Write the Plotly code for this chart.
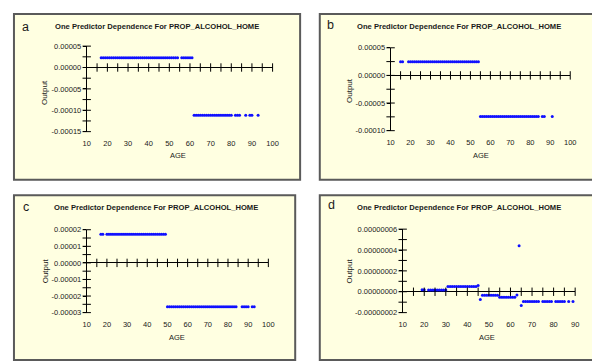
import plotly.graph_objects as go

W, H = 600, 361

# ---------------- data ----------------
# Panel a
a_age = [17, 18, 19, 20, 21, 22, 23, 24, 25, 26, 27, 28, 29, 30, 31, 32, 33, 34, 35, 36,
         37, 38, 39, 40, 41, 42, 43, 44, 45, 46, 47, 48, 49, 50, 51, 52, 53, 54, 56, 57,
         58, 59, 60, 61,
         62, 63, 64, 65, 66, 67, 68, 69, 70, 71, 72, 73, 74, 75, 76, 77, 78, 79, 80,
         82, 83, 84, 87, 89, 90, 93]
a_out = [0.0000227] * 0 + [
    0.0000227, 0.0000227, 0.0000227, 0.0000227, 0.0000227, 0.0000227, 0.0000227, 0.0000227,
    0.0000227, 0.0000227, 0.0000227, 0.0000227, 0.0000227, 0.0000227, 0.0000227, 0.0000227,
    0.0000227, 0.0000227, 0.0000227, 0.0000227, 0.0000227, 0.0000227, 0.0000227, 0.0000227,
    0.0000227, 0.0000227, 0.0000227, 0.0000227, 0.0000227, 0.0000227, 0.0000227, 0.0000227,
    0.0000227, 0.0000227, 0.0000227, 0.0000227, 0.0000227, 0.0000227, 0.0000227, 0.0000227,
    0.0000227, 0.0000227, 0.0000227, 0.0000227,
    -0.0001114, -0.0001114, -0.0001114, -0.0001114, -0.0001114, -0.0001114, -0.0001114,
    -0.0001114, -0.0001114, -0.0001114, -0.0001114, -0.0001114, -0.0001114, -0.0001114,
    -0.0001114, -0.0001114, -0.0001114, -0.0001114, -0.0001114,
    -0.0001114, -0.0001114, -0.0001114, -0.0001114, -0.0001114, -0.0001114, -0.0001114]

# Panel b
b_age = [15, 16, 19, 20, 21, 22, 23, 24, 25, 26, 27, 28, 29, 30, 31, 32, 33, 34, 35, 36,
         37, 38, 39, 40, 41, 42, 43, 44, 45, 46, 47, 48, 49, 50, 51, 52, 53, 54,
         55, 56, 57, 58, 59, 60, 61, 62, 63, 64, 65, 66, 67, 68, 69, 70, 71, 72, 73, 74,
         75, 76, 77, 78, 79, 80, 81, 82, 83, 84, 86, 87, 91]
b_out = [
    0.0000247, 0.0000247, 0.0000247, 0.0000247, 0.0000247, 0.0000247, 0.0000247, 0.0000247,
    0.0000247, 0.0000247, 0.0000247, 0.0000247, 0.0000247, 0.0000247, 0.0000247, 0.0000247,
    0.0000247, 0.0000247, 0.0000247, 0.0000247, 0.0000247, 0.0000247, 0.0000247, 0.0000247,
    0.0000247, 0.0000247, 0.0000247, 0.0000247, 0.0000247, 0.0000247, 0.0000247, 0.0000247,
    0.0000247, 0.0000247, 0.0000247, 0.0000247, 0.0000247, 0.0000247,
    -0.0000742, -0.0000742, -0.0000742, -0.0000742, -0.0000742, -0.0000742, -0.0000742,
    -0.0000742, -0.0000742, -0.0000742, -0.0000742, -0.0000742, -0.0000742, -0.0000742,
    -0.0000742, -0.0000742, -0.0000742, -0.0000742, -0.0000742, -0.0000742, -0.0000742,
    -0.0000742, -0.0000742, -0.0000742, -0.0000742, -0.0000742, -0.0000742, -0.0000742,
    -0.0000742, -0.0000742, -0.0000742, -0.0000742, -0.0000742]

# Panel c
c_age = [17, 18, 20, 21, 22, 23, 24, 25, 26, 27, 28, 29, 30, 31, 32, 33, 34, 35, 36, 37,
         38, 39, 40, 41, 42, 43, 44, 45, 46, 47, 48, 49,
         50, 51, 52, 53, 54, 55, 56, 57, 58, 59, 60, 61, 62, 63, 64, 65, 66, 67, 68, 69,
         70, 71, 72, 73, 74, 75, 76, 77, 78, 79, 80, 81, 82, 83, 84, 87, 88, 89, 90, 92, 93]
c_out = [
    0.0000172, 0.0000172, 0.0000172, 0.0000172, 0.0000172, 0.0000172, 0.0000172, 0.0000172,
    0.0000172, 0.0000172, 0.0000172, 0.0000172, 0.0000172, 0.0000172, 0.0000172, 0.0000172,
    0.0000172, 0.0000172, 0.0000172, 0.0000172, 0.0000172, 0.0000172, 0.0000172, 0.0000172,
    0.0000172, 0.0000172, 0.0000172, 0.0000172, 0.0000172, 0.0000172, 0.0000172, 0.0000172,
    -0.0000265, -0.0000265, -0.0000265, -0.0000265, -0.0000265, -0.0000265, -0.0000265,
    -0.0000265, -0.0000265, -0.0000265, -0.0000265, -0.0000265, -0.0000265, -0.0000265,
    -0.0000265, -0.0000265, -0.0000265, -0.0000265, -0.0000265, -0.0000265, -0.0000265,
    -0.0000265, -0.0000265, -0.0000265, -0.0000265, -0.0000265, -0.0000265, -0.0000265,
    -0.0000265, -0.0000265, -0.0000265, -0.0000265, -0.0000265, -0.0000265, -0.0000265,
    -0.0000265, -0.0000265, -0.0000265, -0.0000265, -0.0000265, -0.0000265]

# Panel d
d_age = [19, 20, 22, 23, 24, 25, 26, 27, 28, 29, 30,
         31, 32, 33, 34, 35, 36, 37, 38, 39, 40, 41, 42, 43, 44, 45,
         46, 47, 48, 49, 50, 51, 52, 53, 54,
         55, 56, 57, 58, 59, 60, 61, 62, 63, 64, 65,
         66, 67, 68, 69, 70, 71, 72, 73, 75, 76, 77, 78, 79, 81, 82, 83, 84, 85, 87, 89]
d_out = [1.9e-9, 1.9e-9, 1.6e-9, 1.6e-9, 1.6e-9, 1.6e-9, 1.6e-9, 1.6e-9, 1.6e-9, 1.6e-9, 1.6e-9,
         5.0e-9, 5.0e-9, 5.0e-9, 5.0e-9, 5.0e-9, 5.0e-9, 5.0e-9, 5.0e-9, 5.0e-9, 5.0e-9,
         5.0e-9, 5.0e-9, 5.0e-9, 5.0e-9, 5.9e-9,
         -7.5e-9, -3.4e-9, -3.4e-9, -3.4e-9, -3.4e-9, -3.4e-9, -3.4e-9, -3.4e-9, -3.4e-9,
         -5.3e-9, -5.3e-9, -5.3e-9, -5.3e-9, -5.3e-9, -5.3e-9, -5.3e-9, -5.3e-9, -3.2e-9,
         4.42e-8, -1.31e-8,
         -9.3e-9, -9.3e-9, -9.3e-9, -9.3e-9, -9.3e-9, -9.3e-9, -9.3e-9, -9.3e-9, -9.3e-9,
         -9.3e-9, -9.3e-9, -9.3e-9, -9.3e-9, -9.3e-9, -9.3e-9, -9.3e-9, -9.3e-9, -9.3e-9,
         -9.3e-9, -9.3e-9]

# tick labels
x_ticks_100 = [10, 20, 30, 40, 50, 60, 70, 80, 90, 100]
x_ticks_90 = [10, 20, 30, 40, 50, 60, 70, 80, 90]
x_cross_100 = [15, 20, 25, 30, 35, 40, 45, 50, 55, 60, 65, 70, 75, 80, 85, 90, 95, 100]
x_cross_90 = [15, 20, 25, 30, 35, 40, 45, 50, 55, 60, 65, 70, 75, 80, 85, 90]

a_yt = [0.00005, 0.0, -0.00005, -0.0001, -0.00015]
a_ytext = ["0.00005", "0.00000", "-0.00005", "-0.00010", "-0.00015"]
a_ycross = [0.00005, 0.000025, 0.0, -0.000025, -0.00005, -0.000075, -0.0001, -0.000125, -0.00015]

b_yt = [0.00005, 0.0, -0.00005, -0.0001]
b_ytext = ["0.00005", "0.00000", "-0.00005", "-0.00010"]
b_ycross = [0.00005, 0.000025, 0.0, -0.000025, -0.00005, -0.000075, -0.0001]

c_yt = [0.00002, 0.00001, 0.0, -0.00001, -0.00002, -0.00003]
c_ytext = ["0.00002", "0.00001", "0.00000", "-0.00001", "-0.00002", "-0.00003"]
c_ycross = [0.00002, 0.000015, 0.00001, 0.000005, 0.0, -0.000005, -0.00001, -0.000015,
            -0.00002, -0.000025, -0.00003]

d_yt = [6e-8, 4e-8, 2e-8, 0.0, -2e-8]
d_ytext = ["0.00000006", "0.00000004", "0.00000002", "0.00000000", "-0.00000002"]
d_ycross = [6e-8, 5e-8, 4e-8, 3e-8, 2e-8, 1e-8, 0.0, -1e-8, -2e-8]

title_text = "One Predictor Dependence For PROP_ALCOHOL_HOME"

# ---------------- layout ----------------
panels = [
    dict(lab="a", age=a_age, out=a_out, xpx=(76, 265), ypx=(35, 122.7), xr=[10, 100],
         yr=[-0.00015, 0.00005], yt=a_yt, ytext=a_ytext, ycross=a_ycross,
         xt=x_ticks_100, xcross=x_cross_100,
         box=(2, 2, 293, 172), labpos=(8, 15), titlepos=(147.5, 15),
         outpos=(33.5, 82), agepos=(169, 147)),
    dict(lab="b", age=b_age, out=b_out, xpx=(385, 567.7), ypx=(36.7, 121.7), xr=[10, 100],
         yr=[-0.0001, 0.00005], yt=b_yt, ytext=b_ytext, ycross=b_ycross,
         xt=x_ticks_100, xcross=x_cross_100,
         box=(313, 2, 596, 172), labpos=(318, 13), titlepos=(455, 15),
         outpos=(342.7, 80), agepos=(476.7, 147)),
    dict(lab="c", age=c_age, out=c_out, xpx=(76, 260.7), ypx=(223.3, 308.3), xr=[10, 100],
         yr=[-0.00003, 0.00002], yt=c_yt, ytext=c_ytext, ycross=c_ycross,
         xt=x_ticks_100, xcross=x_cross_100,
         box=(2, 188, 288, 357), labpos=(9, 200), titlepos=(146.7, 200.7),
         outpos=(33.5, 265), agepos=(168.3, 334)),
    dict(lab="d", age=d_age, out=d_out, xpx=(397.3, 572.7), ypx=(222.7, 308.3), xr=[10, 90],
         yr=[-2e-8, 6e-8], yt=d_yt, ytext=d_ytext, ycross=d_ycross,
         xt=x_ticks_90, xcross=x_cross_90,
         box=(313, 188, 596, 357), labpos=(319, 198), titlepos=(455, 200.7),
         outpos=(342.7, 265), agepos=(483.3, 334)),
]

fig = go.Figure()
shapes = []
annotations = []
layout_axes = {}
FONT = "Liberation Sans, Arial, sans-serif"
TXT = "#1a1a1a"

for i, p in enumerate(panels, start=1):
    xa = "x" if i == 1 else f"x{i}"
    ya = "y" if i == 1 else f"y{i}"
    xkey = "xaxis" if i == 1 else f"xaxis{i}"
    ykey = "yaxis" if i == 1 else f"yaxis{i}"

    x0, y0, x1, y1 = p["box"]
    shapes.append(dict(type="rect", xref="paper", yref="paper",
                       x0=x0 / W, x1=x1 / W, y0=1 - y0 / H, y1=1 - y1 / H,
                       fillcolor="#FFFFE1", line=dict(color="#5a5a5a", width=2),
                       layer="below"))

    layout_axes[xkey] = dict(
        domain=[p["xpx"][0] / W, p["xpx"][1] / W], range=p["xr"], anchor=ya,
        showline=False, showgrid=False, zeroline=False,
        tickvals=p["xt"], ticktext=[str(v) for v in p["xt"]],
        ticks="outside", ticklen=4, tickcolor="rgba(0,0,0,0)",
        tickfont=dict(family=FONT, size=7.5, color=TXT), fixedrange=True)
    layout_axes[ykey] = dict(
        domain=[1 - p["ypx"][1] / H, 1 - p["ypx"][0] / H], range=p["yr"], anchor=xa,
        showline=True, linecolor="black", linewidth=1, showgrid=False,
        zeroline=True, zerolinecolor="black", zerolinewidth=1,
        tickvals=p["yt"], ticktext=p["ytext"],
        ticks="outside", ticklen=3, tickcolor="black",
        tickfont=dict(family=FONT, size=7.5, color=TXT), fixedrange=True)

    # data
    fig.add_trace(go.Scatter(x=p["age"], y=p["out"], mode="markers", xaxis=xa, yaxis=ya,
                             marker=dict(color="#1010ff", size=3, line=dict(width=0)),
                             showlegend=False, hoverinfo="x+y"))
    # crossing ticks on x (zero) line
    fig.add_trace(go.Scatter(x=p["xcross"], y=[0] * len(p["xcross"]), mode="markers",
                             xaxis=xa, yaxis=ya, cliponaxis=False,
                             marker=dict(symbol="line-ns", size=6,
                                         line=dict(color="black", width=1)),
                             showlegend=False, hoverinfo="skip"))
    # crossing ticks on y axis
    fig.add_trace(go.Scatter(x=[p["xr"][0]] * len(p["ycross"]), y=p["ycross"], mode="markers",
                             xaxis=xa, yaxis=ya, cliponaxis=False,
                             marker=dict(symbol="line-ew", size=6,
                                         line=dict(color="black", width=1)),
                             showlegend=False, hoverinfo="skip"))

    def ann(text, pos, size, bold=False, angle=0, anchor="center"):
        annotations.append(dict(text=f"<b>{text}</b>" if bold else text,
                                xref="paper", yref="paper",
                                x=pos[0] / W, y=1 - pos[1] / H,
                                xanchor=anchor, yanchor="middle", showarrow=False,
                                textangle=angle,
                                font=dict(family=FONT, size=size, color=TXT)))

    ann(p["lab"], p["labpos"], 12.5, anchor="left")
    ann(title_text, p["titlepos"], 7.6, bold=True)
    ann("Output", p["outpos"], 8, angle=-90)
    ann("AGE", p["agepos"], 7.5)

fig.update_layout(width=W, height=H, margin=dict(l=0, r=0, t=0, b=0),
                  paper_bgcolor="white", plot_bgcolor="rgba(0,0,0,0)",
                  shapes=shapes, annotations=annotations, showlegend=False,
                  **layout_axes)

fig.write_html("out.html")
